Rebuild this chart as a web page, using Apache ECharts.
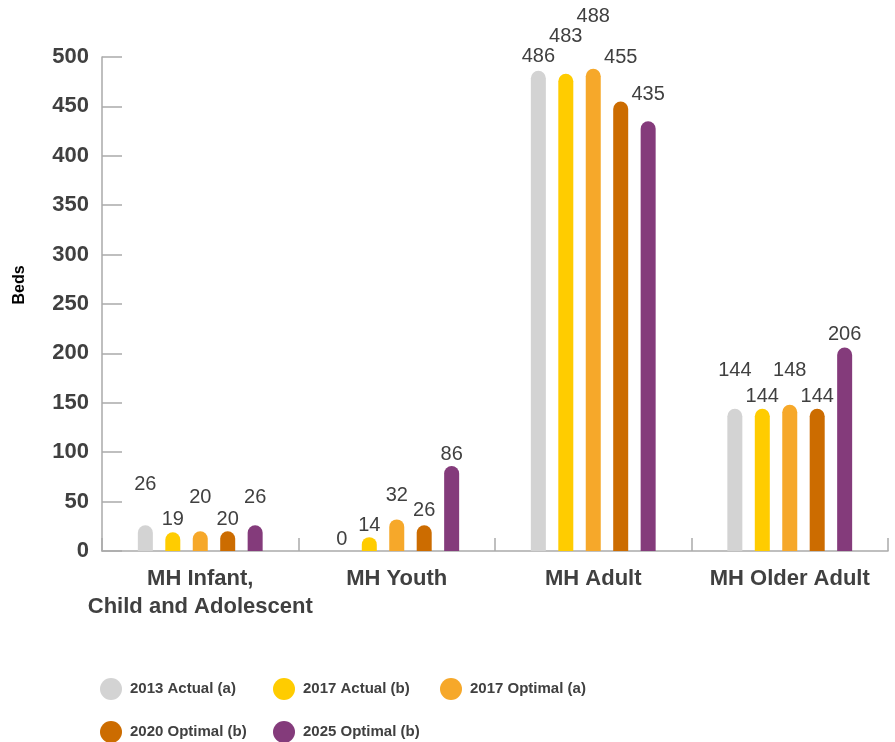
<!DOCTYPE html>
<html>
<head>
<meta charset="utf-8">
<script src="https://cdn.jsdelivr.net/npm/echarts@6/dist/echarts.min.js"></script>
<style>
  html, body { margin: 0; padding: 0; background: #fff; }
  #chart { width: 895px; height: 742px; }
</style>
</head>
<body>
<div id="chart"></div>
<script>
var categories = ["MH Infant,\nChild and Adolescent", "MH Youth", "MH Adult", "MH Older Adult"];
var seriesNames = ["2013 Actual (a)", "2017 Actual (b)", "2017 Optimal (a)", "2020 Optimal (b)", "2025 Optimal (b)"];
var actual2013 = [26, 0, 486, 144];
var actual2017 = [19, 14, 483, 144];
var optimal2017 = [20, 32, 488, 148];
var optimal2020 = [20, 26, 455, 144];
var optimal2025 = [26, 86, 435, 206];
var yTicks = { min: 0, max: 500, interval: 50 };

// label lift above each bar (px), staggered like the original so numbers don't collide
var labelLift = [
  [31, 2, 4, 28],
  [3, 2, 27, 2],
  [24, 14, 42, 24],
  [2, 5, 34, 2],
  [18, 2, 17, 3]
];
var colors = ["#d3d3d3", "#ffcc00", "#f6a82a", "#cc6c00", "#843b7b"];
var values = [actual2013, actual2017, optimal2017, optimal2020, optimal2025];

// legend is laid out in three columns like the original
var legendColumns = [
  { left: 100, names: [seriesNames[0], seriesNames[3]] },
  { left: 273, names: [seriesNames[1], seriesNames[4]] },
  { left: 440, names: [seriesNames[2]] }
];

var font = "Arial, 'Liberation Sans', sans-serif";
var txt = "#404040";
var axisGrey = "#aaaaaa";

var series = values.map(function (vals, s) {
  return {
    name: seriesNames[s],
    type: "bar",
    barWidth: 15,
    barGap: "83%",
    itemStyle: { color: colors[s], borderRadius: [8, 8, 0, 0] },
    label: {
      show: true,
      position: "top",
      color: txt,
      fontFamily: font,
      fontSize: 20
    },
    data: vals.map(function (v, i) {
      return { value: v, label: { distance: labelLift[s][i] } };
    })
  };
});

var legends = legendColumns.map(function (col) {
  return {
    left: col.left,
    top: 678,
    height: 80,
    padding: 0,
    orient: "vertical",
    icon: "circle",
    itemWidth: 22,
    itemHeight: 22,
    itemGap: 21,
    data: col.names,
    textStyle: {
      fontFamily: font,
      fontSize: 15,
      fontWeight: "bold",
      color: txt,
      padding: [0, 0, 0, 3]
    }
  };
});

var chart = echarts.init(document.getElementById("chart"));
chart.setOption({
  animation: false,
  color: colors,
  grid: { left: 102, right: 7, top: 57, bottom: 191, containLabel: false, outerBoundsMode: "none" },
  legend: legends,
  xAxis: {
    type: "category",
    data: categories,
    axisLine: { show: true, lineStyle: { color: axisGrey, width: 1.5 } },
    axisTick: { show: true, inside: true, length: 13, interval: 0, lineStyle: { color: axisGrey, width: 1.5 } },
    axisLabel: {
      interval: 0,
      color: txt,
      fontFamily: font,
      fontSize: 22,
      fontWeight: "bold",
      lineHeight: 28,
      margin: 14
    }
  },
  yAxis: {
    type: "value",
    min: yTicks.min,
    max: yTicks.max,
    interval: yTicks.interval,
    name: "Beds",
    nameLocation: "middle",
    nameGap: 74,
    nameTextStyle: { color: "#000", fontFamily: font, fontSize: 16, fontWeight: "bold", padding: [0, 0, 0, 38] },
    splitLine: { show: false },
    axisLine: { show: true, lineStyle: { color: axisGrey, width: 1.5 } },
    axisTick: { show: true, inside: true, length: 20, lineStyle: { color: axisGrey, width: 1.5 } },
    axisLabel: {
      color: txt,
      fontFamily: font,
      fontSize: 22,
      fontWeight: "bold",
      margin: 13
    }
  },
  series: series
});
</script>
</body>
</html>
